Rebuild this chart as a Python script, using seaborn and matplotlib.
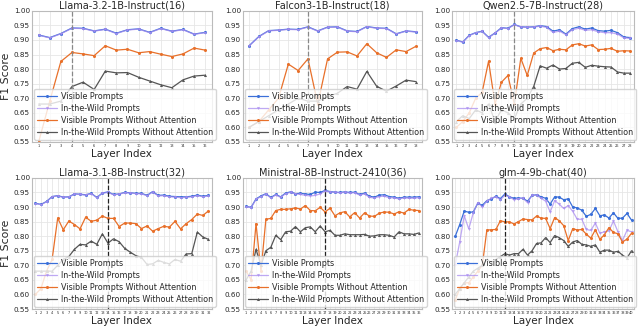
import numpy as np
import pandas as pd
import matplotlib
matplotlib.use("Agg")
import matplotlib.pyplot as plt
import seaborn as sns

# 모델별 레이어 F1 점수
titles = ["Llama-3.2-1B-Instruct(16)", "Falcon3-1B-Instruct(18)", "Qwen2.5-7B-Instruct(28)",
          "Llama-3.1-8B-Instruct(32)", "Ministral-8B-Instruct-2410(36)", "glm-4-9b-chat(40)"]
best_layer = [4, 7, 10, 14, 17, 12]

llama32_vis = [0.917, 0.908, 0.922, 0.941, 0.940, 0.931, 0.937, 0.923, 0.935, 0.938, 0.926, 0.940, 0.930, 0.936, 0.920, 0.926]
llama32_wild = [0.916, 0.907, 0.921, 0.940, 0.939, 0.930, 0.936, 0.922, 0.934, 0.937, 0.925, 0.939, 0.929, 0.935, 0.919, 0.925]
llama32_vis_na = [0.55, 0.69, 0.826, 0.857, 0.852, 0.846, 0.880, 0.865, 0.868, 0.856, 0.860, 0.851, 0.843, 0.852, 0.872, 0.865]
llama32_wild_na = [0.68, 0.68, 0.69, 0.740, 0.755, 0.730, 0.793, 0.787, 0.788, 0.772, 0.759, 0.746, 0.736, 0.763, 0.776, 0.779]

falcon_vis = [0.880, 0.912, 0.932, 0.934, 0.937, 0.936, 0.945, 0.931, 0.944, 0.945, 0.931, 0.929, 0.946, 0.941, 0.940, 0.921, 0.931, 0.928]
falcon_wild = [0.879, 0.911, 0.931, 0.933, 0.936, 0.935, 0.944, 0.930, 0.943, 0.944, 0.930, 0.928, 0.945, 0.940, 0.939, 0.920, 0.930, 0.927]
falcon_vis_na = [0.60, 0.62, 0.66, 0.70, 0.817, 0.795, 0.835, 0.68, 0.835, 0.858, 0.859, 0.845, 0.887, 0.856, 0.840, 0.866, 0.860, 0.878]
falcon_wild_na = [0.60, 0.62, 0.64, 0.66, 0.68, 0.70, 0.69, 0.69, 0.705, 0.717, 0.740, 0.731, 0.792, 0.741, 0.724, 0.742, 0.762, 0.757]

qwen_vis = [0.899, 0.893, 0.916, 0.925, 0.930, 0.909, 0.924, 0.942, 0.940, 0.953, 0.945, 0.944, 0.945, 0.949, 0.946, 0.930, 0.935, 0.920,
            0.939, 0.945, 0.937, 0.941, 0.932, 0.930, 0.933, 0.925, 0.910, 0.908]
qwen_wild = [0.898, 0.892, 0.915, 0.924, 0.929, 0.908, 0.923, 0.941, 0.939, 0.952, 0.944, 0.943, 0.944, 0.947, 0.943, 0.926, 0.930, 0.918,
             0.935, 0.940, 0.933, 0.935, 0.928, 0.925, 0.925, 0.920, 0.907, 0.905]
qwen_vis_na = [0.60, 0.62, 0.65, 0.70, 0.72, 0.827, 0.68, 0.755, 0.778, 0.68, 0.837, 0.778, 0.855, 0.870, 0.874, 0.863, 0.868, 0.866,
               0.883, 0.887, 0.879, 0.883, 0.867, 0.868, 0.871, 0.861, 0.863, 0.862]
qwen_wild_na = [0.62, 0.64, 0.63, 0.66, 0.65, 0.68, 0.62, 0.66, 0.65, 0.63, 0.68, 0.70, 0.740, 0.811, 0.803, 0.814, 0.800, 0.802,
                0.820, 0.823, 0.806, 0.813, 0.810, 0.808, 0.807, 0.790, 0.786, 0.786]

llama31_vis = [0.913, 0.909, 0.919, 0.936, 0.939, 0.934, 0.935, 0.945, 0.944, 0.942, 0.947, 0.933, 0.948, 0.952, 0.943, 0.945,
               0.950, 0.949, 0.947, 0.947, 0.940, 0.953, 0.940, 0.941, 0.937, 0.936, 0.935, 0.935, 0.937, 0.941, 0.937, 0.940]
llama31_wild = [0.912, 0.908, 0.918, 0.935, 0.938, 0.933, 0.934, 0.944, 0.943, 0.941, 0.946, 0.932, 0.947, 0.950, 0.942, 0.944,
                0.949, 0.948, 0.946, 0.945, 0.939, 0.951, 0.938, 0.939, 0.935, 0.934, 0.932, 0.933, 0.935, 0.939, 0.935, 0.938]
llama31_vis_na = [0.60, 0.62, 0.68, 0.72, 0.862, 0.822, 0.852, 0.840, 0.825, 0.865, 0.851, 0.855, 0.869, 0.861, 0.861, 0.833,
                  0.845, 0.845, 0.843, 0.826, 0.835, 0.817, 0.826, 0.834, 0.831, 0.851, 0.825, 0.843, 0.857, 0.876, 0.871, 0.887]
llama31_wild_na = [0.68, 0.68, 0.68, 0.68, 0.70, 0.72, 0.73, 0.755, 0.772, 0.770, 0.783, 0.772, 0.808, 0.776, 0.791, 0.781,
                   0.758, 0.745, 0.733, 0.727, 0.703, 0.705, 0.717, 0.710, 0.705, 0.720, 0.714, 0.739, 0.740, 0.814, 0.797, 0.789]

ministral_vis = [0.902, 0.899, 0.928, 0.938, 0.946, 0.933, 0.943, 0.935, 0.948, 0.952, 0.946, 0.947, 0.945, 0.943, 0.951, 0.950, 0.957, 0.953,
                 0.951, 0.950, 0.952, 0.950, 0.951, 0.943, 0.948, 0.937, 0.934, 0.941, 0.942, 0.936, 0.934, 0.930, 0.934, 0.934, 0.934, 0.935]
ministral_wild = [0.901, 0.898, 0.926, 0.936, 0.944, 0.931, 0.941, 0.933, 0.946, 0.950, 0.945, 0.943, 0.940, 0.938, 0.940, 0.945, 0.955, 0.951,
                  0.950, 0.949, 0.950, 0.948, 0.949, 0.941, 0.945, 0.933, 0.931, 0.936, 0.937, 0.932, 0.931, 0.928, 0.931, 0.930, 0.930, 0.932]
ministral_vis_na = [0.68, 0.65, 0.843, 0.68, 0.858, 0.861, 0.888, 0.892, 0.892, 0.894, 0.897, 0.893, 0.905, 0.888, 0.887, 0.899, 0.883, 0.896,
                    0.870, 0.880, 0.884, 0.866, 0.881, 0.862, 0.880, 0.869, 0.868, 0.879, 0.883, 0.882, 0.876, 0.884, 0.879, 0.892, 0.889, 0.888]
ministral_wild_na = [0.65, 0.68, 0.755, 0.70, 0.750, 0.762, 0.803, 0.788, 0.815, 0.817, 0.833, 0.815, 0.829, 0.832, 0.815, 0.835, 0.815, 0.820,
                     0.803, 0.803, 0.808, 0.805, 0.805, 0.805, 0.806, 0.800, 0.801, 0.805, 0.805, 0.803, 0.797, 0.815, 0.808, 0.808, 0.806, 0.811]

glm_vis = [0.799, 0.840, 0.886, 0.882, 0.883, 0.913, 0.906, 0.922, 0.928, 0.937, 0.929, 0.945, 0.935, 0.930, 0.931, 0.930, 0.920, 0.940, 0.942, 0.935,
           0.930, 0.910, 0.935, 0.934, 0.925, 0.928, 0.900, 0.897, 0.889, 0.868, 0.875, 0.895, 0.870, 0.873, 0.862, 0.880, 0.861, 0.862, 0.878, 0.855]
glm_wild = [0.70, 0.78, 0.870, 0.825, 0.880, 0.915, 0.900, 0.920, 0.930, 0.935, 0.925, 0.940, 0.935, 0.925, 0.929, 0.930, 0.915, 0.940, 0.940, 0.930,
            0.920, 0.883, 0.922, 0.910, 0.895, 0.905, 0.885, 0.858, 0.858, 0.823, 0.820, 0.845, 0.810, 0.815, 0.818, 0.852, 0.815, 0.785, 0.820, 0.815]
glm_vis_na = [0.58, 0.62, 0.64, 0.64, 0.66, 0.68, 0.70, 0.821, 0.822, 0.823, 0.853, 0.849, 0.849, 0.842, 0.850, 0.859, 0.857, 0.856, 0.869, 0.862,
              0.861, 0.826, 0.864, 0.853, 0.836, 0.785, 0.826, 0.821, 0.823, 0.807, 0.793, 0.822, 0.789, 0.805, 0.829, 0.813, 0.808, 0.780, 0.790, 0.810]
glm_wild_na = [0.60, 0.62, 0.64, 0.66, 0.68, 0.69, 0.70, 0.72, 0.71, 0.72, 0.73, 0.740, 0.735, 0.740, 0.740, 0.755, 0.735, 0.750, 0.775, 0.777,
               0.795, 0.778, 0.802, 0.795, 0.785, 0.765, 0.780, 0.785, 0.772, 0.770, 0.765, 0.770, 0.745, 0.752, 0.752, 0.745, 0.748, 0.735, 0.725, 0.750]

series_names = ["Visible Prompts", "In-the-Wild Prompts",
                "Visible Prompts Without Attention", "In-the-Wild Prompts Without Attention"]
colors = ["#3a6fd8", "#a98cf0", "#e8702a", "#555555"]
markers = ["o", "v", "o", "^"]

panels = [
    [llama32_vis, llama32_wild, llama32_vis_na, llama32_wild_na],
    [falcon_vis, falcon_wild, falcon_vis_na, falcon_wild_na],
    [qwen_vis, qwen_wild, qwen_vis_na, qwen_wild_na],
    [llama31_vis, llama31_wild, llama31_vis_na, llama31_wild_na],
    [ministral_vis, ministral_wild, ministral_vis_na, ministral_wild_na],
    [glm_vis, glm_wild, glm_vis_na, glm_wild_na],
]

sns.set_style("whitegrid")
plt.rcParams['font.family'] = ['DejaVu Sans']

fig = plt.figure(figsize=(6.4, 3.27), dpi=100)
lefts = [0.05, 0.38, 0.707]
widths = [0.281, 0.279, 0.284]
bottoms = [0.566, 0.055]
height = 0.401

for i, (title, data) in enumerate(zip(titles, panels)):
    row, col = divmod(i, 3)
    ax = fig.add_axes([lefts[col], bottoms[row], widths[col], height])
    n = len(data[0])
    layers = np.arange(1, n + 1)
    for vals, name, c, m in zip(data, series_names, colors, markers):
        df = pd.DataFrame({"layer": layers, "f1": vals})
        sns.lineplot(data=df, x="layer", y="f1", ax=ax, color=c, marker=m,
                     markersize=2.2, markeredgewidth=0, linewidth=0.9,
                     alpha=0.75 if name == "In-the-Wild Prompts" else 1.0, label=name)
    ax.axvline(best_layer[i], linestyle="--", linewidth=0.9,
               color="#888888" if row == 0 else "#222222")
    ax.set_ylim(0.55, 1.0)
    ax.set_xlim(0.4, n + 0.6)
    yt = np.arange(0.55, 1.001, 0.05)
    ax.set_yticks(yt)
    ax.set_yticklabels([f"{v:.2f}" for v in yt], fontsize=5.2)
    ax.set_xticks(layers)
    ax.set_xticklabels([str(l) for l in layers], fontsize=2.5)
    ax.tick_params(axis="both", pad=1.5, length=0)
    ax.grid(True, color="#e6e6e6", linewidth=0.6)
    for s in ax.spines.values():
        s.set_edgecolor("#bbbbbb")
        s.set_linewidth(0.8)
    ax.set_title(title, fontsize=7.0, pad=1.5)
    ax.set_xlabel("Layer Index", fontsize=7.5, labelpad=1)
    ax.set_ylabel("F1 Score" if col == 0 else "", fontsize=7.8, labelpad=2)
    ax.legend(loc="lower left", fontsize=5.75, framealpha=0.8, borderaxespad=0.25,
              handlelength=2.5, handletextpad=0.5, labelspacing=0.4, borderpad=0.35,
              edgecolor="#cccccc")

fig.savefig("out.png", dpi=100)
